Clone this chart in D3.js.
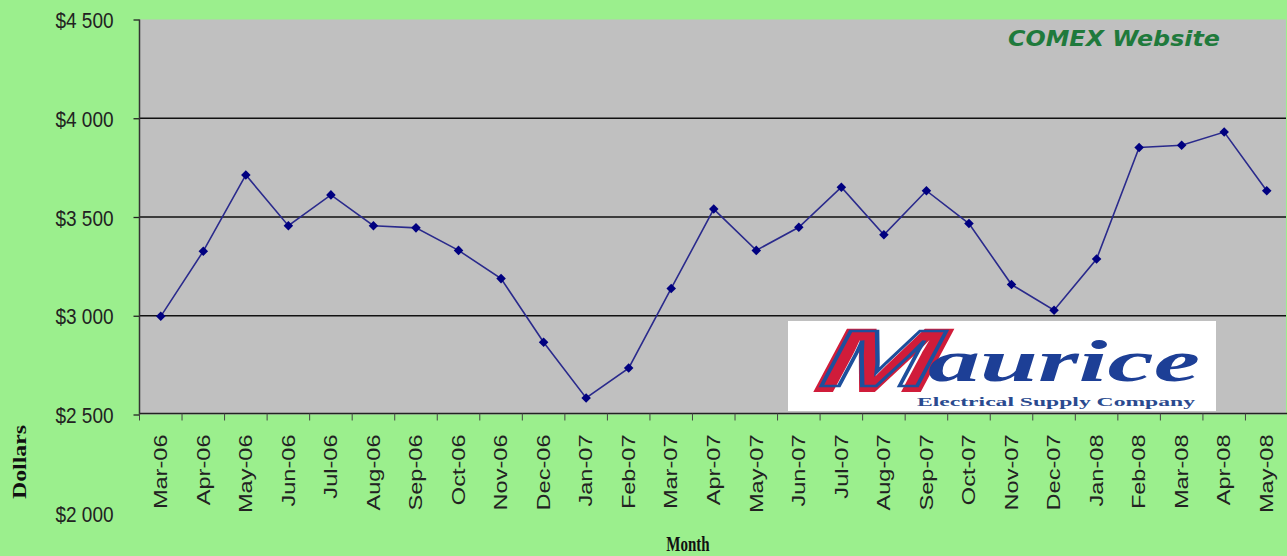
<!DOCTYPE html>
<html>
<head>
<meta charset="utf-8">
<script src="https://cdn.jsdelivr.net/npm/d3@7"></script>
<style>
  html, body { margin: 0; padding: 0; background: #9bef8d; }
  svg { display: block; }
</style>
</head>
<body>
<svg id="chart" width="1287" height="556"></svg>
<script>
const months = ["Mar-06","Apr-06","May-06","Jun-06","Jul-06","Aug-06","Sep-06","Oct-06","Nov-06","Dec-06",
  "Jan-07","Feb-07","Mar-07","Apr-07","May-07","Jun-07","Jul-07","Aug-07","Sep-07","Oct-07","Nov-07","Dec-07",
  "Jan-08","Feb-08","Mar-08","Apr-08","May-08"];
const prices = [2997, 3327, 3713, 3456, 3612, 3456, 3445, 3331, 3188, 2866,
  2584, 2735, 3138, 3540, 3331, 3448, 3651, 3410, 3633, 3467, 3158, 3028,
  3287, 3852, 3863, 3930, 3633];
const yTicks = [2000, 2500, 3000, 3500, 4000, 4500];
const gridValues = [3000, 3500, 4000];
const sourceNote = "COMEX Website";
const xTitle = "Month";
const yTitle = "Dollars";

const svg = d3.select("#chart");
const W = 1287, H = 556;
const plot = { left: 139.5, right: 1288, top: 19.5, bottom: 414.5 };

svg.append("rect").attr("width", W).attr("height", H).attr("fill", "#9bef8d");

const x = d3.scaleBand().domain(months).range([plot.left, plot.right]).padding(0);
const y = d3.scaleLinear().domain([2500, 4500]).range([plot.bottom, plot.top]);
const yAxisScale = d3.scaleLinear().domain([2000, 4500]).range([y(2000), y(4500)]);
const cx = d => x(d) + x.bandwidth() / 2;

// plot area
svg.append("rect")
  .attr("x", plot.left).attr("y", plot.top)
  .attr("width", 1286 - plot.left).attr("height", plot.bottom - plot.top)
  .attr("fill", "#c0c0c0");

// gridlines
svg.append("g").selectAll("line").data(gridValues).join("line")
  .attr("x1", plot.left).attr("x2", 1286)
  .attr("y1", d => y(d)).attr("y2", d => y(d))
  .attr("stroke", "#111").attr("stroke-width", 1.6);

// logo box
const logo = svg.append("g");
logo.append("rect").attr("x", 788).attr("y", 321).attr("width", 428).attr("height", 90).attr("fill", "#ffffff");
const mG = logo.append("g").attr("transform", "translate(803,392) skewX(-28)");
mG.append("text").text("M")
  .attr("x", 0).attr("y", 0)
  .attr("font-family", "Liberation Sans, Arial, sans-serif").attr("font-weight", "bold")
  .attr("font-size", 92)
  .attr("textLength", 128).attr("lengthAdjust", "spacingAndGlyphs")
  .attr("fill", "#d01c3a");
mG.append("text").text("M")
  .attr("x", 6).attr("y", -6)
  .attr("font-family", "Liberation Sans, Arial, sans-serif").attr("font-weight", "bold")
  .attr("font-size", 80)
  .attr("textLength", 114).attr("lengthAdjust", "spacingAndGlyphs")
  .attr("fill", "none").attr("stroke", "#1d4f9c").attr("stroke-width", 2.5);
logo.append("text").text("aurice")
  .attr("x", 928).attr("y", 381)
  .attr("font-family", "Liberation Serif, serif").attr("font-style", "italic").attr("font-weight", "bold")
  .attr("font-size", 60)
  .attr("textLength", 272).attr("lengthAdjust", "spacingAndGlyphs")
  .attr("fill", "#1d3f96");
logo.append("text").text("Electrical Supply Company")
  .attr("x", 917).attr("y", 406)
  .attr("font-family", "Liberation Serif, serif").attr("font-weight", "bold")
  .attr("font-size", 12)
  .attr("textLength", 278).attr("lengthAdjust", "spacingAndGlyphs")
  .attr("fill", "#2a4a8f");

// source note
svg.append("text").text(sourceNote)
  .attr("x", 1008).attr("y", 46)
  .attr("font-family", "DejaVu Sans, Verdana, sans-serif")
  .attr("font-weight", "bold").attr("font-style", "italic")
  .attr("font-size", 21)
  .attr("textLength", 212).attr("lengthAdjust", "spacingAndGlyphs")
  .attr("fill", "#1f7a3c");

// y axis
const yAxis = d3.axisLeft(yAxisScale).tickValues(yTicks).tickSize(6).tickPadding(0)
  .tickFormat(d => "$" + d3.format(",")(d).replace(",", " "));
const gy = svg.append("g").attr("transform", `translate(${plot.left},0)`).call(yAxis);
gy.select(".domain").remove();
gy.selectAll(".tick line").attr("stroke", "#222").attr("stroke-width", 1.3)
  .filter(d => d < 2500).remove();
gy.selectAll(".tick text").attr("fill", "#222")
  .attr("font-family", "Liberation Sans, Arial, sans-serif").attr("font-size", 19)
  .attr("x", 0).attr("dy", null)
  .attr("text-anchor", "end")
  .attr("transform", "translate(-26,0) scale(1,1.18)")
  .attr("dominant-baseline", "central");
svg.append("line").attr("x1", plot.left).attr("x2", plot.left)
  .attr("y1", plot.top).attr("y2", plot.bottom).attr("stroke", "#333").attr("stroke-width", 1.5);

// x axis
const xAxis = d3.axisBottom(x).tickSize(0).tickPadding(0);
const gx = svg.append("g").attr("transform", `translate(0,${plot.bottom})`).call(xAxis);
gx.select(".domain").remove();
gx.selectAll(".tick text").attr("fill", "#222")
  .attr("font-family", "Liberation Sans, Arial, sans-serif").attr("font-size", 19)
  .attr("y", 0).attr("dy", null)
  .attr("text-anchor", "end")
  .attr("dominant-baseline", "central")
  .attr("transform", "translate(0,20) rotate(-90) scale(1.24,1)");
svg.append("line").attr("x1", plot.left).attr("x2", 1287)
  .attr("y1", plot.bottom - 1).attr("y2", plot.bottom - 1).attr("stroke", "#222").attr("stroke-width", 1.6);
svg.append("g").selectAll("line").data(months.concat(["__end"])).join("line")
  .attr("x1", (d, i) => plot.left + i * x.step()).attr("x2", (d, i) => plot.left + i * x.step())
  .attr("y1", plot.bottom - 1).attr("y2", plot.bottom + 6)
  .attr("stroke", "#444").attr("stroke-width", 1);

// axis titles
svg.append("text").text(yTitle)
  .attr("transform", "translate(20,462) rotate(-90) scale(1.25,1)")
  .attr("text-anchor", "middle").attr("dominant-baseline", "central")
  .attr("font-family", "Liberation Serif, serif").attr("font-weight", "bold")
  .attr("font-size", 19).attr("fill", "#111");
svg.append("text").text(xTitle)
  .attr("transform", "translate(688,551) scale(1,1.45)")
  .attr("text-anchor", "middle")
  .attr("font-family", "Liberation Serif, serif").attr("font-weight", "bold")
  .attr("font-size", 15).attr("fill", "#111");

// series line
const line = d3.line().x((d, i) => cx(months[i])).y(d => y(d));
svg.append("path").datum(prices).attr("d", line)
  .attr("fill", "none").attr("stroke", "#2a2a8c").attr("stroke-width", 1.6);

// markers
svg.append("g").selectAll("path").data(prices).join("path")
  .attr("d", d3.symbol().type(d3.symbolDiamond2).size(58))
  .attr("transform", (d, i) => `translate(${cx(months[i])},${y(d)})`)
  .attr("fill", "#000080");
</script>
</body>
</html>
